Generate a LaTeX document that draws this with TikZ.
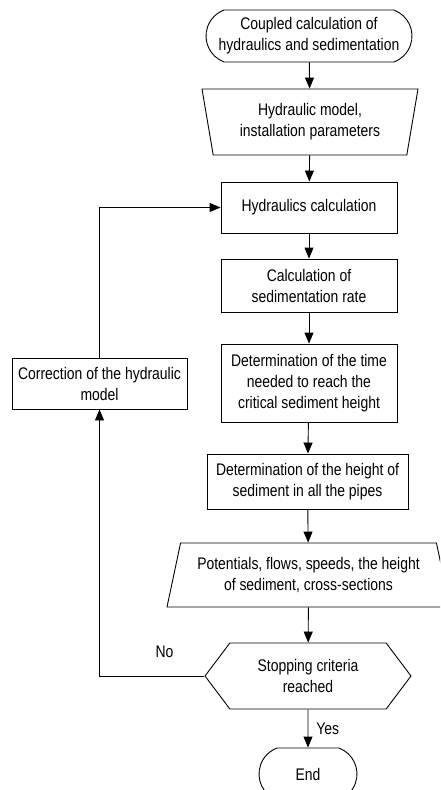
\documentclass[tikz,border=0pt]{standalone}
\usepackage{fontspec}
\setmainfont{Liberation Sans}[FakeStretch=0.83]
\usetikzlibrary{shapes.geometric,shapes.misc,shapes.symbols,arrows.meta}

\begin{document}
\begin{tikzpicture}[x=1pt,y=-1pt,line width=0.9pt,
  font=\fontsize{16.8}{21}\selectfont,
  every node/.style={align=center,inner sep=0pt},
  procbox/.style={draw,rectangle,minimum width=#1},
  termbox/.style={draw,rounded rectangle,rounded rectangle arc length=140,minimum height=52pt},
  iobox/.style={draw,trapezium,trapezium stretches body},
  flow/.style={-{Triangle[length=11pt,width=9pt]}}]
\path[use as bounding box,clip] (0,0) rectangle (440,790);

% main column
\node[termbox,minimum width=206pt] (start) at (309,36) {Coupled calculation of\\hydraulics and sedimentation};
\node[iobox,shape border rotate=180,trapezium left angle=73,trapezium right angle=73,
  minimum width=216pt,minimum height=66pt] (input) at (310,122) {Hydraulic model,\\installation parameters};
\node[procbox=176pt,minimum height=51pt] (hydcalc) at (309,207.5) {Hydraulics calculation};
\node[procbox=176pt,minimum height=53pt] (sedrate) at (309,285.5) {Calculation of\\sedimentation rate};
\node[procbox=176pt,minimum height=78pt] (crittime) at (309,383) {Determination of the time\\needed to reach the\\critical sediment height};
\node[procbox=201pt,minimum height=55pt] (sedheight) at (307.5,481.5) {Determination of the height of\\sediment in all the pipes};
\node[iobox,trapezium left angle=69,trapezium right angle=69,
  minimum width=283pt,minimum height=64pt] (output) at (308.5,575) {Potentials, flows, speeds, the height\\of sediment, cross-sections};
\node[draw,signal,signal to=west and east,signal pointer angle=106,
  minimum width=206pt,minimum height=66pt] (stopcrit) at (308,676) {Stopping criteria\\reached};
\node[termbox,minimum width=98pt] (finish) at (308,774) {End};

% feedback
\node[procbox=175pt,minimum height=51pt] (correct) at (99.5,383.5) {Correction of the hydraulic\\model};

\draw[flow] (start) -- (input);
\draw[flow] (input) -- (hydcalc);
\draw[flow] (hydcalc) -- (sedrate);
\draw[flow] (sedrate) -- (crittime);
\draw[flow] (crittime) -- (sedheight);
\draw[flow] (sedheight) -- (output);
\draw[flow] (output) -- (stopcrit);
\draw[flow] (stopcrit) -- node[midway,right=8pt] {Yes} (finish);
\draw[flow] (stopcrit.west) -| node[pos=0.19,above=18pt] {No} (correct.south);
\draw[flow] (correct.north) |- (hydcalc.west);
\end{tikzpicture}
\end{document}
